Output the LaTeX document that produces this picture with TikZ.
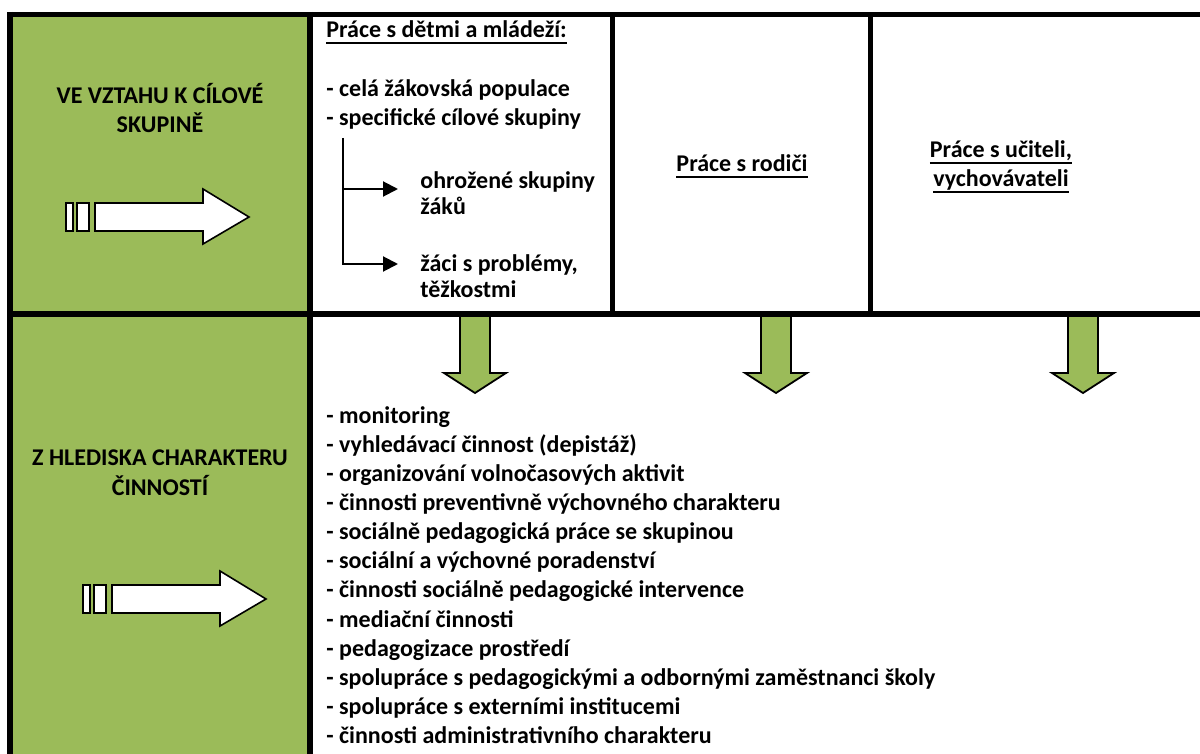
\documentclass[tikz,border=0pt]{standalone}
\usepackage{fontspec}
\setmainfont{Carlito}
\usetikzlibrary{arrows.meta}
\definecolor{leafgreen}{HTML}{9BBB59}
\newcommand\wordline[1]{\setbox0\hbox{#1}\rlap{\rule[-2.9pt]{\wd0}{0.9pt}}\box0}

\tikzset{
  gridline/.style={line width=2.7pt},
  headtext/.style={font=\fontsize{12}{14.6}\selectfont\bfseries, inner sep=0pt, anchor=base, align=center},
  celltext/.style={font=\fontsize{12}{14.6}\selectfont\bfseries, inner sep=0pt, anchor=base west, align=left},
  stripe/.style={draw, fill=white, line width=0.8pt},
  downarrow/.style={draw, fill=leafgreen, line width=0.9pt, line join=miter},
  branch/.style={line width=1pt, -{Triangle[length=7.5pt,width=7.5pt]}}
}

\begin{document}
\begin{tikzpicture}[x=0.5pt,y=-0.5pt]
\useasboundingbox (0,0) rectangle (1200,754);
\clip (0,0) rectangle (1200,754);

% green column
\fill[leafgreen] (10,14) rectangle (310,760);

% down arrows
\foreach \x in {475,776,1083}
  \draw[downarrow] (\x-15,316) -- (\x-15,373) -- (\x-31,373) -- (\x,393) -- (\x+31,373) -- (\x+15,373) -- (\x+15,316) -- cycle;

% table lines
\draw[gridline] (7,14.5) -- (1210,14.5);
\draw[gridline] (7,314) -- (1210,314);
\draw[gridline] (10,12) -- (10,760);
\draw[gridline] (310,12) -- (310,760);
\draw[gridline] (612.5,14) -- (612.5,314);
\draw[gridline] (870.5,14) -- (870.5,314);

% striped arrows
\foreach \dx/\dy in {0/0,17/382}{
  \begin{scope}[shift={(\dx,\dy)}]
    \draw[stripe] (66,203) rectangle (73,231);
    \draw[stripe] (77,203) rectangle (89,231);
    \draw[stripe] (95,203) -- (203,203) -- (203,189) -- (249,217) -- (203,244) -- (203,231) -- (95,231) -- cycle;
  \end{scope}
}

% base of a two-line node = its last line
\node[headtext] (target) at (160,133) {VE VZTAHU K CÍLOVÉ\\SKUPINĚ};
\node[headtext] (activity) at (160,495) {Z HLEDISKA CHARAKTERU\\ČINNOSTÍ};

\node[celltext] (kids) at (326,38) {\wordline{Práce s dětmi a mládeží:}};
\node[celltext] (groups) at (326,126) {- celá žákovská populace\\- specifické cílové skupiny};
\node[celltext] (risk) at (420,215) {ohrožené skupiny\\[-1.5pt]žáků};
\node[celltext] (probl) at (420,298) {žáci s problémy,\\[-1.5pt]těžkostmi};

\coordinate (br) at (343,138);
\coordinate (j1) at (343,189);
\coordinate (t1) at (398,189);
\coordinate (t2) at (398,264);
\draw[branch] (j1) -- (t1);
\draw[branch] (br) |- (t2);

\node[headtext] (parents) at (742,172) {\wordline{Práce s rodiči}};
\node[headtext] (teachers) at (1001,187) {\wordline{Práce s učiteli,}\\\wordline{vychovávateli}};

\foreach \t [count=\i from 0] in {- monitoring, - vyhledávací činnost (depistáž), - organizování volnočasových aktivit, - činnosti preventivně výchovného charakteru, - sociálně pedagogická práce se skupinou, - sociální a výchovné poradenství, - činnosti sociálně pedagogické intervence, - mediační činnosti, - pedagogizace prostředí, - spolupráce s pedagogickými a odbornými zaměstnanci školy, - spolupráce s externími institucemi, - činnosti administrativního charakteru}
  \node[celltext] (act\i) at (326,423+29.15*\i) {\t};

\end{tikzpicture}
\end{document}
